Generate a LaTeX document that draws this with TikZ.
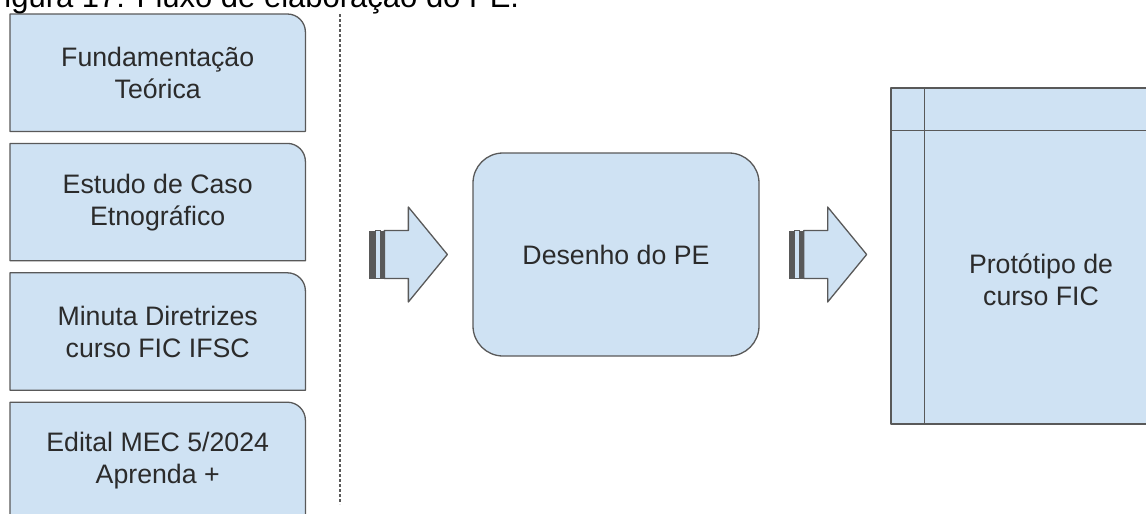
\documentclass[tikz,border=0pt]{standalone}
\usepackage{fontspec}
\setmainfont{Liberation Sans}
\usetikzlibrary{positioning,backgrounds}
\definecolor{boxfill}{HTML}{CFE2F3}
\definecolor{boxline}{HTML}{595959}
\definecolor{boxtext}{HTML}{2B2B2B}

\newcommand{\stripedarrow}[1]{%
  \begin{scope}[shift={(#1)}]
    \fill[boxline] (0,-24) rectangle (5.7,24);
    \filldraw[fill=boxfill,draw=boxline,line width=0.8pt] (5.7,-24) rectangle (10.7,24);
    \fill[boxline] (10.7,-24) rectangle (15,24);
    \filldraw[shape line] (15,24) -- (39,24) -- (39,47.5) -- (78,0) -- (39,-47.5) -- (39,-24) -- (15,-24) -- cycle;
  \end{scope}}

\begin{document}
\begin{tikzpicture}[x=1pt,y=1pt,node distance=12pt,
   shape line/.style={draw=boxline,fill=boxfill,line width=1.3pt,line join=round},
   label text/.style={align=center,text=boxtext,font=\fontsize{26.7}{32}\selectfont,inner sep=0pt},
   source/.style={label text,minimum width=295pt,minimum height=117pt},
   divider/.style={draw=boxline,line width=1.2pt,dash pattern=on 3pt off 2pt}]
   \useasboundingbox (0,0) rectangle (1146,-514);
   \clip (0,0) rectangle (1146,-514);

   \node[anchor=base west,font=\fontsize{31}{37}\selectfont] (caption) at (-18,-7) {Figura 17: Fluxo de elaboração do PE.};

   \node[source,anchor=north west] (teoria) at (10,-14) {Fundamentação\\Teórica};
   \node[source,below=of teoria] (caso)   {Estudo de Caso\\Etnográfico};
   \node[source,below=of caso]   (minuta) {Minuta Diretrizes\\curso FIC IFSC};
   \node[source,below=of minuta] (edital) {Edital MEC 5/2024\\Aprenda +};

   \begin{scope}[on background layer]
   \foreach \n in {teoria,caso,minuta,edital}
     \filldraw[shape line] (\n.south west) -- (\n.north west) -- ([xshift=-18pt]\n.north east)
        arc[start angle=90,end angle=0,radius=18pt] -- (\n.south east) -- cycle;
   \end{scope}

   \draw[divider] (340,-14) -- (340,-504);

   \node[label text,shape line,rounded corners=30pt,minimum width=286pt,minimum height=203pt]
      (desenho) at (616,-254.5) {Desenho do PE};
   \node[shape line,minimum width=266pt,minimum height=336pt,inner sep=0pt] (prototipo) at (1024,-256) {};
   \draw[shape line] ([xshift=34pt]prototipo.north west) -- ([xshift=34pt]prototipo.south west)
                     ([yshift=-43pt]prototipo.north west) -- ([yshift=-43pt]prototipo.north east);
   \node[label text] (prototipo text) at ([xshift=17pt,yshift=-24pt]prototipo.center) {Protótipo de\\curso FIC};

   \coordinate[left=103pt of desenho] (tail1);
   \coordinate[right=29pt of desenho] (tail2);
   \stripedarrow{tail1}
   \stripedarrow{tail2}
\end{tikzpicture}
\end{document}
